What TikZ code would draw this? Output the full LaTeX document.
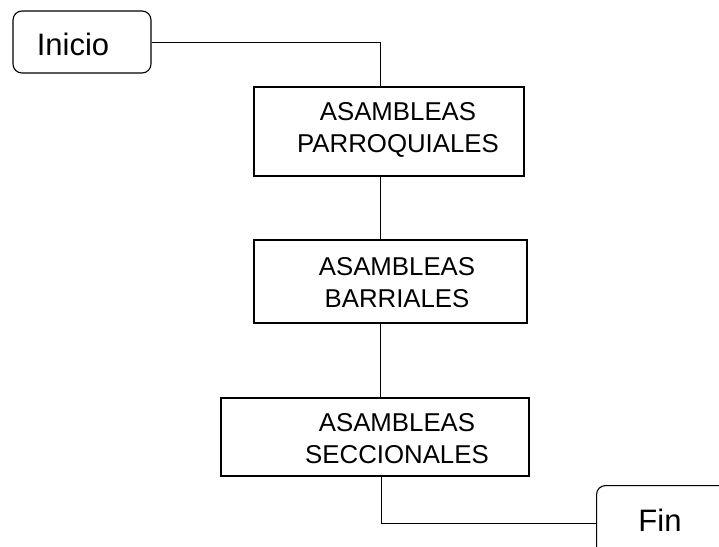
\documentclass[tikz,border=0pt]{standalone}
\usepackage{fontspec}
\setmainfont{Liberation Sans}
\begin{document}
\begin{tikzpicture}[x=1pt,y=1pt,
  stage/.style={draw=black, line width=1.3pt, rectangle, inner sep=0pt},
  terminal/.style={draw=black, line width=1.1pt, rectangle, rounded corners=9pt, inner sep=0pt},
  stagetext/.style={align=center, font=\fontsize{25.8}{32}\selectfont, inner sep=0pt},
  termtext/.style={font=\fontsize{31}{36}\selectfont, inner sep=0pt},
  link/.style={draw=black, line width=1pt}]
  \useasboundingbox (0,0) rectangle (719,-546);
  \clip (0,0) rectangle (719,-546);

  % start terminal
  \node[terminal, minimum width=138, minimum height=62] (inicio) at (82,-42) {};
  \node[termtext, anchor=base] at (73,-55) {Inicio};

  % the three assembly levels
  \node[stage, minimum width=270, minimum height=89] (p1) at (389,-131.5) {};
  \node[stagetext] at (398,-130) {ASAMBLEAS\\PARROQUIALES};

  \node[stage, minimum width=273, minimum height=83] (p2) at (390.5,-281.5) {};
  \node[stagetext] at (397,-283) {ASAMBLEAS\\BARRIALES};

  \node[stage, minimum width=308, minimum height=78] (p3) at (375,-437) {};
  \node[stagetext] at (397,-439) {ASAMBLEAS\\SECCIONALES};

  % end terminal, running past the lower right edge
  \node[terminal, minimum width=160, minimum height=100, anchor=north west] (fin) at (596,-485) {};
  \node[termtext, anchor=base] at (660,-531) {Fin};

  % vertical spine of the flow
  \coordinate (spine) at (380,0);
  \coordinate (turn) at (381,-523);

  \draw[link] (inicio.east) -| (spine |- p1.north);
  \draw[link] (spine |- p1.south) -- (spine |- p2.north);
  \draw[link] (spine |- p2.south) -- (spine |- p3.north);
  \draw[link] (turn |- p3.south) -- (turn) -- (turn -| fin.west);
\end{tikzpicture}
\end{document}
